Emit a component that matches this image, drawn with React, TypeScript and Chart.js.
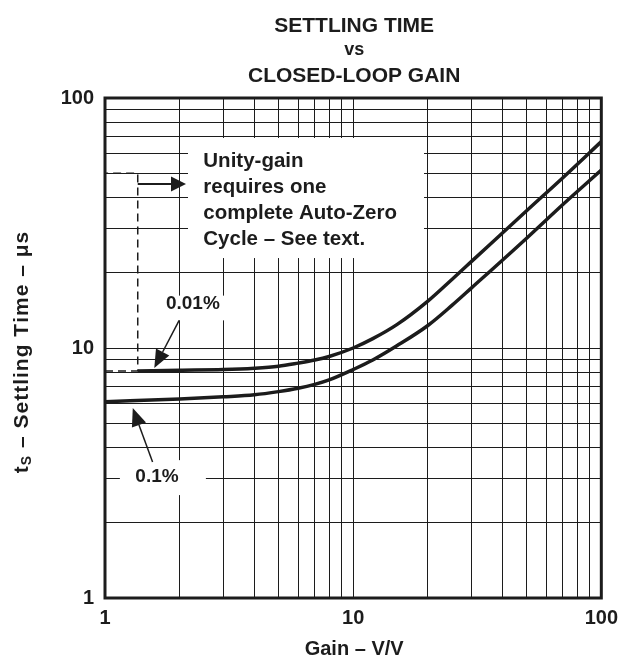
import React, { useEffect, useRef } from 'react';
import { Chart, registerables } from 'chart.js';

Chart.register(...registerables);

// ---------- data ----------
const gridValues = [1, 2, 3, 4, 5, 6, 7, 8, 9, 10, 20, 30, 40, 50, 60, 70, 80, 90, 100];
const labeledTicks = [1, 10, 100];

const gain01 = [1, 2, 3, 4, 5, 6, 7, 8, 10, 12, 15, 20, 25, 30, 50, 70, 100];
const settle01 = [6.1, 6.25, 6.38, 6.5, 6.69, 6.9, 7.15, 7.45, 8.2, 8.95, 10.2, 12.3, 14.8, 17.4, 27.5, 37.5, 51.5];

const gain001 = [1.355, 2, 3, 4, 5, 6, 7, 8, 10, 12, 15, 20, 25, 30, 50, 70, 100];
const settle001 = [8.1, 8.15, 8.2, 8.3, 8.45, 8.7, 8.95, 9.25, 10.0, 10.9, 12.4, 15.4, 18.8, 22.2, 35.4, 48.0, 66.9];

// annotations (data coordinates)
const dashGain = [1, 1.355, 1.355, 1];
const dashTime = [8.1, 8.1, 50, 50];
const pointerGain = [1.355, 2.12];
const pointerTime = [45.3, 45.3];

const noteLines = ['Unity-gain', 'requires one', 'complete Auto-Zero', 'Cycle – See text.'];
const noteTextGain = 2.49;
const noteLineTime = [56.0, 44.1, 34.7, 27.3];
const noteBoxGain = [2.16, 19.3];
const noteBoxTime = [69.2, 22.9];

const labelText = ['0.01%', '0.1%'];
const labelGain = [2.26, 1.62];
const labelTime = [15.0, 3.05];
const labelBoxGain = [[1.58, 3.3], [1.148, 2.55]];
const labelBoxTime = [[16.2, 12.9], [3.56, 2.58]];
const arrowFromGain = [1.99, 1.555];
const arrowFromTime = [12.9, 3.5];
const arrowToGain = [1.58, 1.294];
const arrowToTime = [8.32, 5.75];

const titleLines = ['SETTLING TIME', 'vs', 'CLOSED-LOOP GAIN'];
const xTitle = 'Gain – V/V';
const yTitleParts = ['t', 'S', ' – Settling Time – μs'];

// ---------- style ----------
const FONT = '"Liberation Sans", Arial, Helvetica, sans-serif';
const INK = '#1c1c1c';

function drawArrow(ctx: CanvasRenderingContext2D, x1: number, y1: number, x2: number, y2: number, lw: number, len: number, half: number) {
  const a = Math.atan2(y2 - y1, x2 - x1);
  const bx = x2 - Math.cos(a) * len;
  const by = y2 - Math.sin(a) * len;
  ctx.lineWidth = lw;
  ctx.beginPath();
  ctx.moveTo(x1, y1);
  ctx.lineTo(bx, by);
  ctx.stroke();
  ctx.beginPath();
  ctx.moveTo(x2, y2);
  ctx.lineTo(bx + Math.sin(a) * half, by - Math.cos(a) * half);
  ctx.lineTo(bx - Math.sin(a) * half, by + Math.cos(a) * half);
  ctx.closePath();
  ctx.fill();
}

function spacedWidth(ctx: CanvasRenderingContext2D, s: string, sp: number) {
  let w = 0;
  for (const ch of s) w += ctx.measureText(ch).width + sp;
  return w;
}
function drawSpaced(ctx: CanvasRenderingContext2D, s: string, x: number, y: number, sp: number) {
  for (const ch of s) {
    ctx.fillText(ch, x, y);
    x += ctx.measureText(ch).width + sp;
  }
  return x;
}

const annotPlugin = {
  id: 'annot',
  beforeDatasetsDraw(chart: any) {
    const xs = chart.scales.x;
    const ys = chart.scales.y;
    const ctx: CanvasRenderingContext2D = chart.ctx;
    const px = (g: number) => xs.getPixelForValue(g);
    const py = (t: number) => ys.getPixelForValue(t);
    ctx.save();
    ctx.fillStyle = '#ffffff';
    const fillBox = (g: number[], t: number[]) => {
      const x0 = px(g[0]), x1 = px(g[1]);
      const y0 = py(t[0]), y1 = py(t[1]);
      ctx.fillRect(Math.min(x0, x1), Math.min(y0, y1), Math.abs(x1 - x0), Math.abs(y1 - y0));
    };
    fillBox(noteBoxGain, noteBoxTime);
    labelBoxGain.forEach((g, i) => fillBox(g, labelBoxTime[i]));

    ctx.fillStyle = INK;
    ctx.strokeStyle = INK;
    ctx.textBaseline = 'middle';
    ctx.textAlign = 'left';
    ctx.font = `bold 20.5px ${FONT}`;
    noteLines.forEach((s, i) => ctx.fillText(s, px(noteTextGain), py(noteLineTime[i])));

    ctx.textAlign = 'center';
    ctx.font = `bold 19px ${FONT}`;
    labelText.forEach((s, i) => ctx.fillText(s, px(labelGain[i]), py(labelTime[i])));

    // dashed unity-gain outline
    ctx.setLineDash([8, 5]);
    ctx.lineWidth = 1.5;
    ctx.beginPath();
    dashGain.forEach((g, i) => {
      if (i === 0) ctx.moveTo(px(g), py(dashTime[i]));
      else ctx.lineTo(px(g), py(dashTime[i]));
    });
    ctx.stroke();
    ctx.setLineDash([]);

    drawArrow(ctx, px(pointerGain[0]), py(pointerTime[0]), px(pointerGain[1]), py(pointerTime[1]), 2, 15, 7.5);
    arrowFromGain.forEach((g, i) => {
      drawArrow(ctx, px(g), py(arrowFromTime[i]), px(arrowToGain[i]), py(arrowToTime[i]), 1.5, 18, 7.5);
    });
    ctx.restore();
  },
  afterDraw(chart: any) {
    const ctx: CanvasRenderingContext2D = chart.ctx;
    const area = chart.chartArea;
    ctx.save();
    ctx.strokeStyle = INK;
    ctx.lineWidth = 3;
    ctx.strokeRect(area.left, area.top, area.right - area.left, area.bottom - area.top);

    ctx.fillStyle = INK;
    ctx.textAlign = 'center';
    ctx.textBaseline = 'middle';
    const cx = (area.left + area.right) / 2 + 1;
    ctx.font = `bold 21px ${FONT}`;
    ctx.fillText(titleLines[0], cx, 26);
    ctx.font = `bold 18px ${FONT}`;
    ctx.fillText(titleLines[1], cx, 50);
    ctx.font = `bold 21px ${FONT}`;
    ctx.fillText(titleLines[2], cx, 76);

    ctx.font = `bold 20px ${FONT}`;
    ctx.fillText(xTitle, cx, 649);

    // y title with subscript
    const SP = 1;
    const big = `bold 21px ${FONT}`;
    const small = `bold 14px ${FONT}`;
    ctx.font = big;
    const w0 = spacedWidth(ctx, yTitleParts[0], SP);
    const w2 = spacedWidth(ctx, yTitleParts[2], SP);
    ctx.font = small;
    const w1 = spacedWidth(ctx, yTitleParts[1], SP);
    const total = w0 + w1 + w2;
    ctx.translate(22, (area.top + area.bottom) / 2 + 4);
    ctx.rotate(-Math.PI / 2);
    ctx.textAlign = 'left';
    let x = -total / 2;
    ctx.font = big;
    x = drawSpaced(ctx, yTitleParts[0], x, 0, SP);
    ctx.font = small;
    x = drawSpaced(ctx, yTitleParts[1], x, 5, SP);
    ctx.font = big;
    drawSpaced(ctx, yTitleParts[2], x, 0, SP);
    ctx.restore();
  },
};

export default function App() {
  const ref = useRef<HTMLCanvasElement>(null);
  useEffect(() => {
    const setTicks = (scale: any) => {
      scale.ticks = gridValues.map((v) => ({ value: v }));
    };
    const tickCb = (v: any) => (labeledTicks.includes(Number(v)) ? String(v) : '');
    const chart = new Chart(ref.current as HTMLCanvasElement, {
      type: 'line',
      data: {
        datasets: [
          {
            label: '0.01%',
            data: gain001.map((g, i) => ({ x: g, y: settle001[i] })),
            borderColor: INK,
            borderWidth: 3.5,
            pointRadius: 0,
            fill: false,
            cubicInterpolationMode: 'monotone',
          },
          {
            label: '0.1%',
            data: gain01.map((g, i) => ({ x: g, y: settle01[i] })),
            borderColor: INK,
            borderWidth: 3.5,
            pointRadius: 0,
            fill: false,
            cubicInterpolationMode: 'monotone',
          },
        ],
      },
      options: {
        responsive: false,
        animation: false,
        devicePixelRatio: 1,
        layout: { padding: { top: 98, left: 0, right: 20, bottom: 0 } },
        plugins: { legend: { display: false }, tooltip: { enabled: false }, title: { display: false } },
        scales: {
          x: {
            type: 'logarithmic',
            min: 1,
            max: 100,
            afterBuildTicks: setTicks,
            afterFit: (s: any) => { s.height = 67; },
            grid: { color: INK, lineWidth: 1, drawTicks: false },
            border: { display: false },
            ticks: {
              autoSkip: false,
              maxRotation: 0,
              padding: 8,
              color: INK,
              font: { family: FONT, size: 20, weight: 'bold' },
              callback: tickCb,
            },
          },
          y: {
            type: 'logarithmic',
            min: 1,
            max: 100,
            afterBuildTicks: setTicks,
            afterFit: (s: any) => { s.width = 105; },
            grid: { color: INK, lineWidth: 1, drawTicks: false },
            border: { display: false },
            ticks: {
              autoSkip: false,
              padding: 11,
              color: INK,
              font: { family: FONT, size: 20, weight: 'bold' },
              callback: tickCb,
            },
          },
        },
      } as any,
      plugins: [annotPlugin],
    });
    return () => chart.destroy();
  }, []);
  return (
    <div style={{ position: 'absolute', left: 0, top: 0, width: 626, height: 665, background: '#fff' }}>
      <canvas ref={ref} width={626} height={665} style={{ display: 'block' }} />
    </div>
  );
}
